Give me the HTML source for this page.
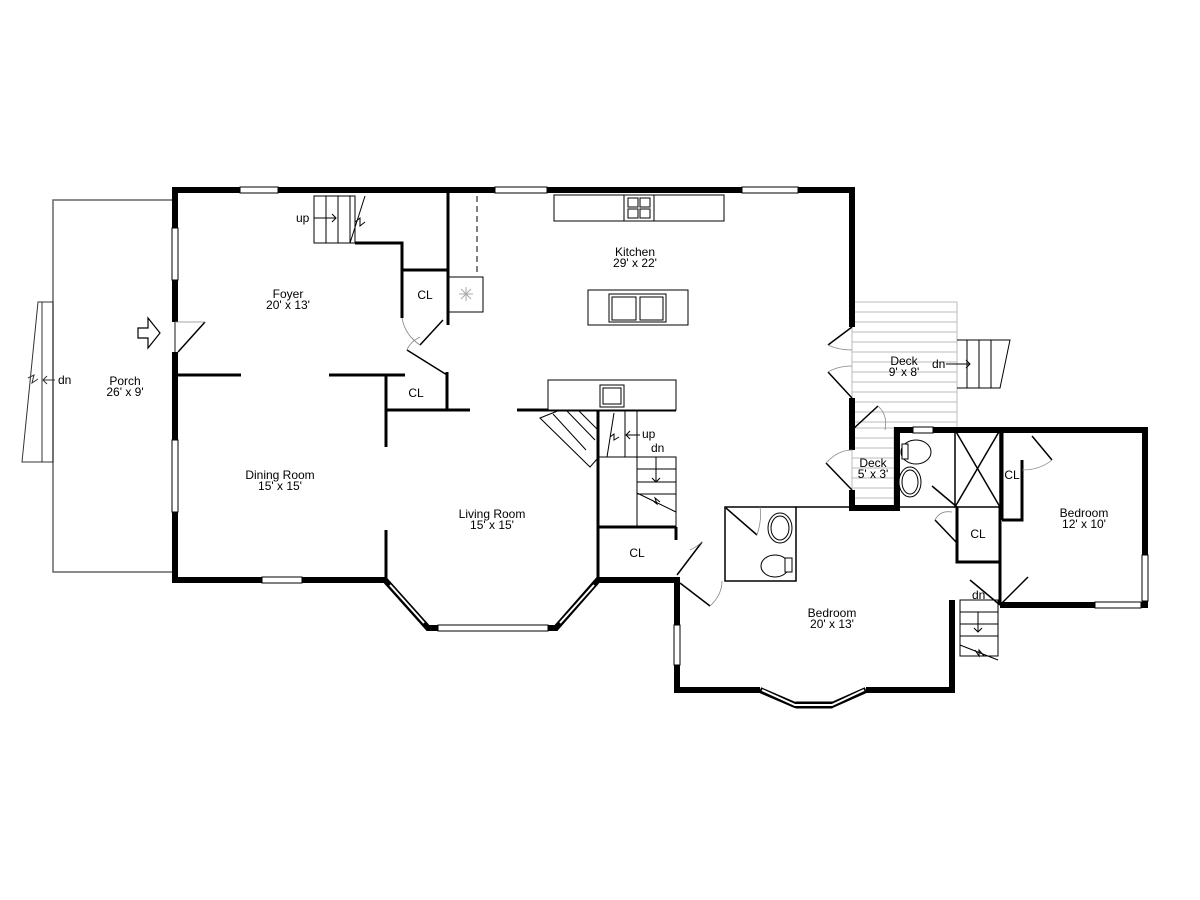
<!DOCTYPE html>
<html><head><meta charset="utf-8"><style>
html,body{margin:0;padding:0;background:#fff;}
svg{display:block}
text{font-family:"Liberation Sans",sans-serif;font-size:12px;fill:#000;}
</style></head><body>
<svg width="1200" height="900" viewBox="0 0 1200 900" xmlns="http://www.w3.org/2000/svg">
<rect width="1200" height="900" fill="#fff"/>
<rect x="53" y="200" width="122" height="372" fill="none" stroke="#666" stroke-width="1.5"/>
<polygon points="22,462 53,462 53,302 38,302" fill="none" stroke="#333" stroke-width="1"/>
<line x1="42" y1="302" x2="42" y2="462" stroke="#333"/>
<path d="M28,378 l6,-3 -2,8 6,-4" fill="none" stroke="#333"/>
<path d="M55,380 h-12 M47,376 l-4,4 4,4" fill="none" stroke="#333"/>
<text x="58" y="384" font-size="10">dn</text>
<path d="M138,328 h10 v-10 l12,15 -12,15 v-10 h-10z" fill="#fff" stroke="#000" stroke-width="1.2"/>
<g stroke="#bbb" stroke-width="1">
<rect x="852" y="302" width="105" height="126" fill="#fff"/>
<line x1="852" y1="312" x2="957" y2="312"/><line x1="852" y1="322" x2="957" y2="322"/><line x1="852" y1="332" x2="957" y2="332"/><line x1="852" y1="342" x2="957" y2="342"/><line x1="852" y1="352" x2="957" y2="352"/><line x1="852" y1="362" x2="957" y2="362"/><line x1="852" y1="372" x2="957" y2="372"/><line x1="852" y1="382" x2="957" y2="382"/><line x1="852" y1="392" x2="957" y2="392"/><line x1="852" y1="402" x2="957" y2="402"/><line x1="852" y1="412" x2="957" y2="412"/><line x1="852" y1="422" x2="957" y2="422"/>
<rect x="852" y="428" width="42" height="80" fill="#fff"/>
<line x1="852" y1="438" x2="894" y2="438"/><line x1="852" y1="448" x2="894" y2="448"/><line x1="852" y1="458" x2="894" y2="458"/><line x1="852" y1="468" x2="894" y2="468"/><line x1="852" y1="478" x2="894" y2="478"/><line x1="852" y1="488" x2="894" y2="488"/><line x1="852" y1="498" x2="894" y2="498"/>
</g>
<g stroke="#000" stroke-width="1" fill="none">
<path d="M957,340 H1010 L1000,388 H957"/>
<line x1="967" y1="340" x2="967" y2="388"/><line x1="979" y1="340" x2="979" y2="388"/><line x1="991" y1="340" x2="991" y2="388"/>
<path d="M946,364 h24 M966,360 l4,4 -4,4"/>
</g>
<text x="932" y="368" font-size="10">dn</text>
<g stroke="#000" stroke-width="6" fill="none" stroke-linejoin="miter">
<polyline points="175,322 175,190 852,190 852,327"/>
<line x1="852" y1="398" x2="852" y2="450"/>
<polyline points="852,490 852,508 897,508 897,430 1145,430 1145,605 1000,605"/>
<polyline points="175,352 175,580 385,580 428,628 556,628 598,580 677,580 677,690 760,690"/>
<polyline points="866,690 952,690 952,600"/>
</g>
<g fill="#fff" stroke="#000" stroke-width="1">
<rect x="240" y="187" width="38" height="6"/><rect x="495" y="187" width="52" height="6"/><rect x="742" y="187" width="56" height="6"/>
<rect x="172" y="228" width="6" height="52"/><rect x="172" y="440" width="6" height="72"/>
<rect x="262" y="577" width="40" height="6"/><rect x="438" y="625" width="110" height="6"/>
<rect x="674" y="625" width="6" height="40"/><rect x="1142" y="555" width="6" height="46"/><rect x="1095" y="602" width="46" height="6"/>
<rect x="913" y="427" width="20" height="6"/>
<rect x="796" y="702" width="36" height="6"/>
</g>
<g stroke="#000" stroke-width="6" fill="none"><polyline points="760,690 795,705 832,705 866,690"/></g>
<g stroke="#fff" stroke-width="2" fill="none"><polyline points="762,690 795,705 832,705 864,690"/><line x1="390" y1="585" x2="424" y2="623"/><line x1="560" y1="623" x2="594" y2="585"/></g>
<g stroke="#000" stroke-width="3" fill="none">
<polyline points="355,243 402,243 402,318"/>
<polyline points="402,270 447,270"/>
<line x1="448" y1="190" x2="448" y2="325"/>
<line x1="178" y1="375" x2="241" y2="375"/>
<line x1="329" y1="375" x2="405" y2="375"/>
<line x1="386" y1="375" x2="386" y2="447"/>
<line x1="386" y1="530" x2="386" y2="580"/>
<line x1="447" y1="372" x2="447" y2="410"/>
<line x1="386" y1="410" x2="470" y2="410"/>
<line x1="517" y1="410" x2="676" y2="410"/>
<line x1="598" y1="410" x2="598" y2="580"/>
<line x1="598" y1="527" x2="676" y2="527"/>
<line x1="676" y1="527" x2="676" y2="540"/>
<line x1="1002" y1="430" x2="1002" y2="520"/>
<polyline points="1002,520 1022,520 1022,460"/>
<line x1="1000" y1="507" x2="1000" y2="605"/>
<polyline points="957,507 957,562 1000,562"/>
</g>
<g stroke="#000" stroke-width="1.5" fill="none">
<rect x="725" y="507" width="71" height="74"/>
<line x1="796" y1="507" x2="852" y2="507"/>
<rect x="955" y="430" width="45" height="77"/>
<line x1="955" y1="430" x2="1000" y2="507"/><line x1="1000" y1="430" x2="955" y2="507"/>
<line x1="897" y1="507" x2="955" y2="507"/>
</g>
<g stroke="#000" stroke-width="1" fill="none">
<rect x="314" y="196" width="41" height="47"/>
<line x1="326" y1="196" x2="326" y2="243"/><line x1="338" y1="196" x2="338" y2="243"/><line x1="350" y1="196" x2="350" y2="243"/>
<path d="M365,196 L350,243 M355,222 l5,-4 0,8 5,-4"/>
<path d="M314,218 h22 M332,214 l4,4 -4,4"/>
</g>
<text x="296" y="222" font-size="10">up</text>
<g stroke="#000" stroke-width="1" fill="#fff">
<line x1="477" y1="196" x2="477" y2="276" stroke-dasharray="6,4"/>
<rect x="449" y="277" width="34" height="35"/>
<rect x="554" y="195" width="170" height="26"/>
<rect x="624" y="195" width="30" height="26"/>
<rect x="628" y="198" width="10" height="9"/><rect x="640" y="198" width="10" height="9"/><rect x="628" y="209" width="10" height="9"/><rect x="640" y="209" width="10" height="9"/>
<rect x="588" y="290" width="100" height="35"/>
<rect x="609" y="294" width="57" height="28"/><rect x="612" y="297" width="24" height="23"/><rect x="640" y="297" width="23" height="23"/>
<rect x="548" y="380" width="128" height="30"/>
<rect x="600" y="385" width="24" height="22"/><rect x="603" y="388" width="18" height="16"/>
</g>
<g stroke="#aaa" stroke-width="1"><path d="M459,294 h14 M466,287 v14 M461,289 l10,10 M471,289 l-10,10"/></g>
<g stroke="#000" stroke-width="1" fill="none">
<polygon points="540,418 560,410 598,410 598,458 590,467"/>
<line x1="553" y1="414" x2="586" y2="450"/><line x1="566" y1="410" x2="595" y2="440"/><line x1="578" y1="410" x2="598" y2="430"/>
<rect x="598" y="410" width="39" height="47"/><line x1="625" y1="410" x2="625" y2="457"/>
<path d="M614,413 L607,457 M610,437 l4,-3 0,6 5,-3"/>
<path d="M640,435 h-14 M630,431 l-4,4 4,4"/>
<rect x="637" y="457" width="39" height="70"/>
<line x1="637" y1="469" x2="676" y2="469"/><line x1="637" y1="482" x2="676" y2="482"/><line x1="637" y1="494" x2="676" y2="494"/>
<path d="M656,457 v25 M652,478 l4,4 4,-4"/>
<path d="M637,493 L676,512 M652,500 l5,4 -2,-6 5,4"/>
</g>
<text x="642" y="438" font-size="10">up</text>
<text x="651" y="452" font-size="10">dn</text>
<g stroke="#000" stroke-width="1" fill="none">
<rect x="960" y="600" width="38" height="56"/>
<line x1="960" y1="612" x2="998" y2="612"/><line x1="960" y1="624" x2="998" y2="624"/><line x1="960" y1="636" x2="998" y2="636"/>
<path d="M978,612 v20 M974,628 l4,4 4,-4"/>
<path d="M960,645 L998,660 M975,650 l4,6 0,-6 5,6"/>
</g>
<text x="972" y="599" font-size="10">dn</text>
<g stroke="#000" stroke-width="1" fill="#fff">
<ellipse cx="780" cy="528" rx="12" ry="15"/><ellipse cx="780" cy="528" rx="9" ry="12"/>
<ellipse cx="775" cy="566" rx="14" ry="11"/><rect x="785" y="558" width="7" height="14"/>
<ellipse cx="916" cy="452" rx="15" ry="12"/><rect x="902" y="444" width="6" height="15"/>
<ellipse cx="910" cy="482" rx="11" ry="15"/><ellipse cx="910" cy="482" rx="8" ry="12"/>
</g>
<g stroke="#000" stroke-width="1.5" fill="none">
<line x1="178" y1="352" x2="205" y2="322"/>
<line x1="420" y1="345" x2="443" y2="320"/>
<line x1="407" y1="350" x2="447" y2="375"/>
<line x1="828" y1="345" x2="852" y2="327"/><line x1="828" y1="372" x2="852" y2="398"/>
<line x1="852" y1="430" x2="878" y2="406"/>
<line x1="826" y1="463" x2="852" y2="490"/>
<line x1="677" y1="575" x2="702" y2="542"/>
<line x1="680" y1="583" x2="710" y2="606"/>
<line x1="726" y1="508" x2="757" y2="535"/>
<line x1="932" y1="486" x2="957" y2="507"/>
<line x1="935" y1="520" x2="957" y2="543"/>
<line x1="1032" y1="436" x2="1052" y2="460"/>
<line x1="970" y1="580" x2="1000" y2="605"/><line x1="1000" y1="605" x2="1028" y2="577"/>
</g>
<g stroke="#888" stroke-width="0.8" fill="none">
<path d="M175,322 Q195,322 205,322"/>
<path d="M402,318 Q405,335 420,345"/>
<path d="M407,350 Q410,342 420,337"/>
<path d="M828,345 Q838,350 852,350"/><path d="M828,372 Q838,366 852,366"/>
<path d="M878,406 Q888,415 885,430"/>
<path d="M826,463 Q838,450 852,450"/>
<path d="M702,542 Q695,548 690,550"/>
<path d="M710,606 Q722,595 722,581"/>
<path d="M757,535 Q762,520 760,507"/>
<path d="M935,520 Q940,510 952,512"/>
<path d="M1052,460 Q1040,470 1022,470"/>
</g>
<g text-anchor="middle">
<text x="125" y="385">Porch</text><text x="125" y="396">26' x 9'</text>
<text x="288" y="298">Foyer</text><text x="288" y="309">20' x 13'</text>
<text x="425" y="299">CL</text>
<text x="416" y="397">CL</text>
<text x="280" y="479">Dining Room</text><text x="280" y="490">15' x 15'</text>
<text x="492" y="518">Living Room</text><text x="492" y="529">15' x 15'</text>
<text x="635" y="256">Kitchen</text><text x="635" y="267">29' x 22'</text>
<text x="637" y="557">CL</text>
<text x="904" y="365">Deck</text><text x="904" y="376">9' x 8'</text>
<text x="873" y="467">Deck</text><text x="873" y="478">5' x 3'</text>
<text x="1012" y="479">CL</text>
<text x="978" y="538">CL</text>
<text x="1084" y="517">Bedroom</text><text x="1084" y="528">12' x 10'</text>
<text x="832" y="617">Bedroom</text><text x="832" y="628">20' x 13'</text>
</g>
</svg>
</body></html>
